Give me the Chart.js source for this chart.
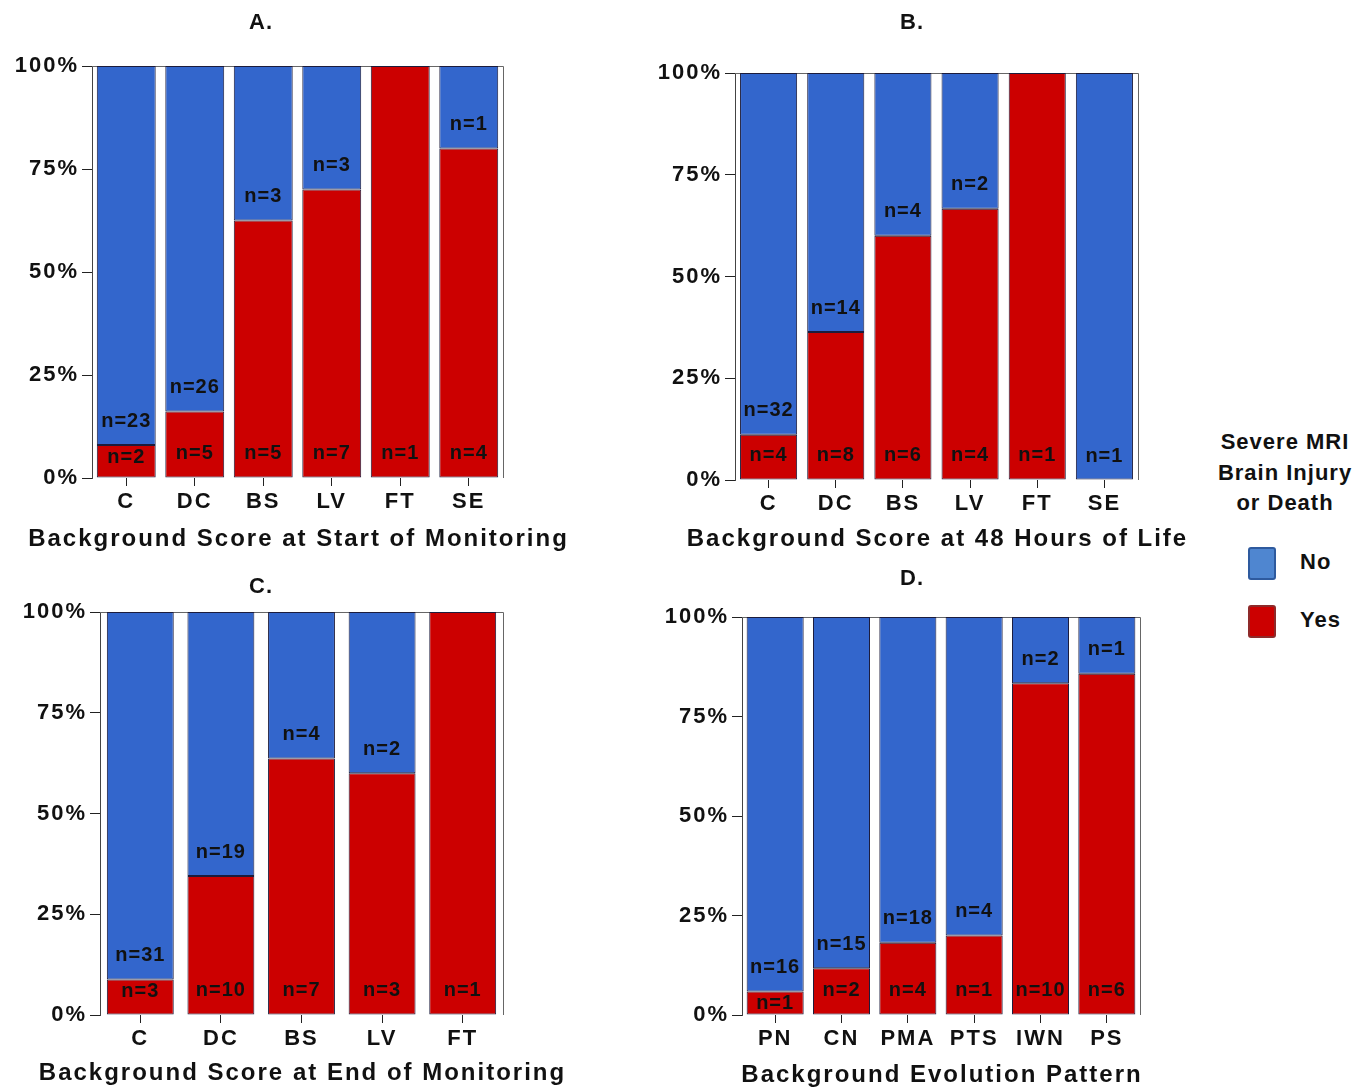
<!DOCTYPE html>
<html>
<head>
<meta charset="utf-8">
<script src="https://cdn.jsdelivr.net/npm/chart.js@4.4.1/dist/chart.umd.min.js"></script>
<style>
  body { margin: 0; background: #fff; }
  #wrap { position: relative; width: 1370px; height: 1091px; font-family: "Liberation Sans", Arial, sans-serif; color: #111; }
  canvas { position: absolute; }
  .ptitle { position: absolute; font-weight: bold; font-size: 22px; transform: translate(-50%, -50%); letter-spacing: 1px; }
  #legend { position: absolute; left: 1200px; top: 427px; width: 170px; }
  #legend .head { text-align: center; font-weight: bold; font-size: 22px; line-height: 30.5px; letter-spacing: 1px; }
  .item { position: absolute; left: 48px; font-weight: bold; font-size: 22px; letter-spacing: 1px; }
  .sw { position: absolute; left: 0; width: 24px; height: 29px; border: 2px solid; border-radius: 3px; }
  .item span { position: absolute; left: 52px; white-space: nowrap; }
</style>
</head>
<body>
<div id="wrap">
  <canvas id="cA" width="600" height="565" style="left:0;top:0"></canvas>
  <canvas id="cB" width="570" height="565" style="left:620px;top:0"></canvas>
  <canvas id="cC" width="600" height="526" style="left:0;top:565px"></canvas>
  <canvas id="cD" width="570" height="526" style="left:620px;top:565px"></canvas>
  <div class="ptitle" style="left:261px;top:22px">A.</div>
  <div class="ptitle" style="left:912px;top:22px">B.</div>
  <div class="ptitle" style="left:261px;top:586px">C.</div>
  <div class="ptitle" style="left:912px;top:578px">D.</div>
  <div id="legend"></div>
</div>
<script>
"use strict";

// 圖例
const legendTitle = ['Severe MRI', 'Brain Injury', 'or Death'];
const seriesNames = ['No', 'Yes'];

// y 軸刻度
const yTickLabels = ['0%', '25%', '50%', '75%', '100%'];

// A. 監測開始時
const labelsA = ['C', 'DC', 'BS', 'LV', 'FT', 'SE'];
const yesA = [2, 5, 5, 7, 1, 4];
const noA = [23, 26, 3, 3, 0, 1];

// B. 出生 48 小時
const labelsB = ['C', 'DC', 'BS', 'LV', 'FT', 'SE'];
const yesB = [4, 8, 6, 4, 1, 0];
const noB = [32, 14, 4, 2, 0, 1];

// C. 監測結束時
const labelsC = ['C', 'DC', 'BS', 'LV', 'FT'];
const yesC = [3, 10, 7, 3, 1];
const noC = [31, 19, 4, 2, 0];

// D. 演變模式
const labelsD = ['PN', 'CN', 'PMA', 'PTS', 'IWN', 'PS'];
const yesD = [1, 2, 4, 1, 10, 6];
const noD = [16, 15, 18, 4, 2, 1];

const BLUE = '#3366cc';
const RED = '#cc0000';
const EDGE = '#1c1c3c';
const FONT = '"Liberation Sans", Arial, sans-serif';

// 字距
const spacing = {
  id: 'spacing',
  beforeUpdate(chart) { chart.ctx.letterSpacing = '2px'; },
  beforeDraw(chart) { chart.ctx.letterSpacing = '2px'; }
};

// 上方和右方框線
const frame = {
  id: 'frame',
  beforeDatasetsDraw(chart) {
    const { ctx, chartArea: a } = chart;
    ctx.save();
    ctx.strokeStyle = '#666';
    ctx.lineWidth = 1;
    ctx.beginPath();
    ctx.moveTo(a.left, a.top + 0.5);
    ctx.lineTo(a.right + 0.5, a.top + 0.5);
    ctx.lineTo(a.right + 0.5, a.bottom);
    ctx.stroke();
    ctx.restore();
  }
};

// x 軸標題 (不壓縮寬度)
const axisTitle = {
  id: 'axisTitle',
  afterDraw(chart, args, opts) {
    const { ctx, chartArea: a } = chart;
    ctx.save();
    ctx.font = 'bold 24px ' + FONT;
    ctx.letterSpacing = '2px';
    ctx.fillStyle = '#111';
    ctx.textAlign = 'center';
    ctx.textBaseline = 'middle';
    ctx.fillText(opts.text, (a.left + a.right) / 2 + 1, chart.scales.x.bottom - opts.offset);
    ctx.restore();
  }
};

// n= 標籤
const countLabels = {
  id: 'countLabels',
  afterDatasetsDraw(chart) {
    const ctx = chart.ctx;
    const yes = chart.data.datasets[0].counts;
    const no = chart.data.datasets[1].counts;
    ctx.save();
    ctx.font = 'bold 20px ' + FONT;
    ctx.letterSpacing = '1px';
    ctx.fillStyle = '#111';
    ctx.textAlign = 'center';
    ctx.textBaseline = 'middle';
    chart.getDatasetMeta(0).data.forEach((bar, i) => {
      if (yes[i] > 0) {
        ctx.fillText('n=' + yes[i], bar.x, Math.max(bar.base - 24, bar.y + 12));
      }
      if (no[i] > 0) {
        const top = yes[i] > 0 ? bar.y : bar.base;
        ctx.fillText('n=' + no[i], bar.x, top - 24);
      }
    });
    ctx.restore();
  }
};

function makePanel(id, labels, yes, no, title, o) {
  const pct = (a, i) => a[i] / (yes[i] + no[i]) * 100;
  return new Chart(document.getElementById(id), {
    type: 'bar',
    data: {
      labels: labels,
      datasets: [{
        label: seriesNames[1],
        data: labels.map((_, i) => pct(yes, i)),
        counts: yes,
        backgroundColor: RED
      }, {
        label: seriesNames[0],
        data: labels.map((_, i) => pct(no, i)),
        counts: no,
        backgroundColor: BLUE
      }]
    },
    options: {
      responsive: false,
      animation: false,
      layout: { padding: { top: o.top, right: o.right, left: 0, bottom: 0 } },
      datasets: {
        bar: {
          borderColor: EDGE,
          borderWidth: 1,
          borderSkipped: false,
          barPercentage: o.bar,
          categoryPercentage: 1
        }
      },
      plugins: {
        legend: { display: false },
        tooltip: { enabled: false },
        axisTitle: { text: title, offset: o.to }
      },
      scales: {
        x: {
          stacked: true,
          afterFit: (s) => { s.height = o.xh; },
          border: { display: false },
          grid: { drawOnChartArea: false, drawTicks: true, tickLength: 8, color: '#222', offset: false },
          ticks: { color: '#111', font: { family: FONT, size: 22, weight: 'bold' }, padding: 3, maxRotation: 0, autoSkip: false }
        },
        y: {
          stacked: true,
          min: 0, max: 100,
          afterFit: (s) => { s.width = o.yw; },
          border: { display: true, color: '#444', width: 1 },
          grid: { drawOnChartArea: false, drawTicks: true, tickLength: 10, color: '#222' },
          ticks: {
            stepSize: 25, padding: 3, color: '#111',
            font: { family: FONT, size: 22, weight: 'bold' },
            callback: (v) => yTickLabels[v / 25]
          }
        }
      }
    },
    plugins: [spacing, frame, countLabels, axisTitle]
  });
}

makePanel('cA', labelsA, yesA, noA, 'Background Score at Start of Monitoring',
  { top: 66, right: 97, yw: 92, xh: 87, to: 26, bar: 0.86 });
makePanel('cB', labelsB, yesB, noB, 'Background Score at 48 Hours of Life',
  { top: 73, right: 52, yw: 115, xh: 85, to: 26, bar: 0.85 });
makePanel('cC', labelsC, yesC, noC, 'Background Score at End of Monitoring',
  { top: 47, right: 97, yw: 100, xh: 76, to: 18, bar: 0.83 });
makePanel('cD', labelsD, yesD, noD, 'Background Evolution Pattern',
  { top: 52, right: 50, yw: 122, xh: 76, to: 16, bar: 0.86 });

// 圖例 HTML
const legendEl = document.getElementById('legend');
legendEl.innerHTML = '<div class="head">' + legendTitle.join('<br>') + '</div>';
const swatches = [
  { fill: '#4f86d0', edge: '#2e5a9e' },
  { fill: '#cc0000', edge: '#8e2a2a' }
];
seriesNames.forEach((name, i) => {
  const item = document.createElement('div');
  item.className = 'item';
  item.style.top = (120 + i * 58) + 'px';
  item.innerHTML = '<div class="sw" style="background:' + swatches[i].fill + ';border-color:' + swatches[i].edge + '"></div>' +
    '<span style="top:2px">' + name + '</span>';
  legendEl.appendChild(item);
});
</script>
</body>
</html>
